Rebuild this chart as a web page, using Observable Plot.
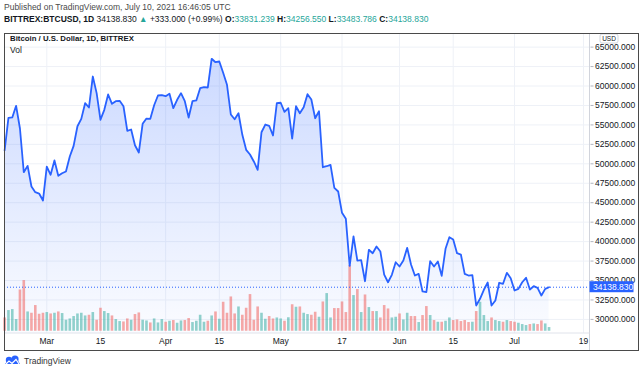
<!DOCTYPE html>
<html><head><meta charset="utf-8">
<script src="https://cdn.jsdelivr.net/npm/d3@7"></script>
<script src="https://cdn.jsdelivr.net/npm/@observablehq/plot@0.6"></script>
<style>
body{margin:0;width:640px;height:372px;position:relative;overflow:hidden;background:#fff;font-family:"Liberation Sans",Arial,sans-serif;}
.abs{position:absolute;white-space:nowrap;line-height:10px;}
#pub{left:4px;top:2px;font-size:8.5px;color:#4a4a4a;}
#sym{left:4px;top:14px;font-size:8.5px;color:#131722;}
#sym .t{color:#26a69a;}
#sym b{font-weight:bold;}
#frame{left:3.5px;top:32.5px;width:635px;height:318px;border:1.5px solid #4a4a4a;box-sizing:border-box;}
#chart{position:absolute;left:0;top:33px;}
#title{left:10px;top:33.5px;font-size:7.8px;font-weight:bold;color:#131722;}
#vol{left:10px;top:44.5px;font-size:8.5px;color:#131722;}
#foot{left:4px;top:355px;font-size:8.5px;color:#333;display:flex;align-items:center;gap:3px;}
</style></head>
<body>
<div id="pub" class="abs">Published on TradingView.com, July 10, 2021 16:46:05 UTC</div>
<div id="sym" class="abs"><b>BITTREX:BTCUSD, 1D</b> 34138.830 <span class="t">▲</span> +333.000 (+0.99%) <b>O:</b><span class="t">33831.239</span> <b>H:</b><span class="t">34256.550</span> <b>L:</b><span class="t">33483.786</span> <b>C:</b><span class="t">34138.830</span></div>
<div id="chart"></div>
<div id="frame" class="abs"></div>
<div id="title" class="abs">Bitcoin / U.S. Dollar, 1D, BITTREX</div>
<div id="vol" class="abs">Vol</div>
<div id="foot" class="abs"><svg width="17" height="11" viewBox="0 0 17 11"><path d="M1 9 L5 4 L8 7 L12 2 L16 9 Z" fill="#2962ff"/><circle cx="5" cy="5" r="3.2" fill="#2962ff"/><circle cx="11" cy="4" r="3.6" fill="#2962ff"/><path d="M2 9 L5 6 L8 8.5 L12 4.5 L15 9" fill="none" stroke="#fff" stroke-width="1.2"/></svg><span>TradingView</span></div>
<script>
// ---- data ----
const startDate = "2021-02-18"; // first daily bar
const closes = [
51710, 55910, 55960, 57455, 54540, 48920, 49740, 47080, 46350, 46180,
45280, 49650, 48590, 50430, 48460, 48790, 49010, 50940, 52310, 54830,
55780, 57790, 57240, 61220, 59080, 55660, 56940, 58910, 57710, 58050,
58100, 57400, 54240, 54410, 52390, 51450, 55140, 55820, 55780, 57530,
58780, 58830, 58690, 59000, 57150, 58230, 59080, 58050, 55950, 58050,
58140, 59720, 59850, 59810, 63500, 63060, 63150, 61700, 60150, 56340,
55730, 56500, 53730, 51800, 51200, 50300, 49230, 54060, 55050, 54890,
53640, 57790, 57850, 56680, 57150, 53250, 57400, 56500, 57280, 58950,
58270, 55860, 56760, 49560, 49690, 49870, 46920, 46440, 43700, 42930,
36870, 40660, 37570, 37620, 34910, 38950, 38510, 39370, 38730, 35770,
34780, 35730, 37350, 36800, 37570, 39200, 37060, 35640, 35860, 33590,
33500, 37480, 36800, 37440, 35600, 39080, 40570, 40270, 38510, 38340,
35860, 35640, 35700, 31790, 32650, 33810, 34740, 31790, 32430, 34710,
34580, 35990, 35300, 33720, 33930, 34780, 35350, 33840, 34270, 34060,
33070, 33930, 34138.83
];
const prevClose = 52100; // close of the day before the first bar
const volumes = [
1330, 2070, 2170, 1170, 4130, 5070, 1930, 1800, 2570, 1700,
1800, 1870, 1730, 1800, 1930, 1770, 1100, 1230, 1470, 1730,
1800, 1530, 1600, 1870, 1100, 2300, 1970, 1770, 1530, 1170,
970, 930, 1230, 1100, 1670, 1830, 1100, 1030, 830, 1230,
830, 1170, 900, 1000, 1070, 800, 1030, 1070, 1270, 870,
1000, 1600, 900, 1000, 1530, 1930, 1200, 2900, 1800, 3430,
1730, 2430, 1600, 2300, 3670, 1100, 2430, 1800, 1200, 1470,
1230, 1330, 1230, 1000, 1350, 2650, 2400, 2430, 1800, 1670,
1600, 1900, 1400, 2930, 3770, 1330, 2270, 2270, 2930, 1870,
6570, 3570, 4170, 1870, 3630, 2370, 1970, 1970, 1330, 2570,
2230, 1330, 1400, 1730, 1130, 1800, 1470, 1470, 870, 1570,
2470, 1570, 1070, 900, 900, 1000, 1330, 1070, 1130, 970,
1070, 870, 900, 1970, 2900, 1570, 970, 1330, 1070, 970,
900, 1070, 970, 900, 800, 670, 570, 670, 730, 670,
1030, 730, 370
];
const priceTicks = [30000, 32500, 35000, 37500, 40000, 42500, 45000, 47500, 50000, 52500, 55000, 57500, 60000, 62500, 65000];
const dateTicks = ["2021-03-01","2021-03-15","2021-04-01","2021-04-15","2021-05-01","2021-05-17","2021-06-01","2021-06-15","2021-07-01","2021-07-19"];
const dateTickLabels = ["Mar","15","Apr","15","May","17","Jun","15","Jul","19"];
const lastClose = 34138.83;

// ---- build ----
const DAY = 864e5;
const t0 = Date.parse(startDate + "T00:00:00Z");
const rows = closes.map((c, i) => ({
  date: new Date(t0 + i * DAY),
  close: c,
  volume: volumes[i],
  up: c >= (i ? closes[i - 1] : prevClose)
}));
const tickDates = dateTicks.map(s => new Date(s + "T00:00:00Z"));
const labelOf = new Map(tickDates.map((d, i) => [+d, dateTickLabels[i]]));

const mar1 = Date.parse("2021-03-01T00:00:00Z");
const xDomain = [new Date(mar1 - 11.03 * DAY), new Date(mar1 + 141.68 * DAY)];
const yDomain = [28190, 66750];
const volBase = 28480, volPaneTop = 36920;
const volK = (volPaneTop - volBase) / d3.max(volumes);

const FONT = "'Liberation Sans', Arial, sans-serif";
const W = 640, H = 317, mR = 50.5, mB = 17, mL = 4;
const chart = Plot.plot({
  width: W, height: H,
  marginLeft: mL, marginRight: mR, marginTop: 0, marginBottom: mB,
  x: {type: "utc", domain: xDomain},
  y: {domain: yDomain},
  style: {fontFamily: FONT, fontSize: "8.5px", color: "#131722", background: "transparent", overflow: "visible"},
  marks: [
    Plot.gridY(priceTicks, {stroke: "#eef1f7", strokeOpacity: 1}),
    Plot.gridX(tickDates, {stroke: "#eef1f7", strokeOpacity: 1}),
    Plot.areaY(rows, {x: "date", y1: yDomain[0], y2: "close", fill: "url(#areaGrad)"}),
    Plot.ruleX(rows, {x: "date", y1: volBase, y2: d => volBase + d.volume * volK,
      stroke: d => d.up ? "#26a69a" : "#ef5350", strokeOpacity: 0.5, strokeWidth: 2.6}),
    Plot.ruleY([lastClose], {stroke: "#2962ff", strokeWidth: 1, strokeDasharray: "1,2"}),
    Plot.line(rows, {x: "date", y: "close", stroke: "#2962ff", strokeWidth: 1.8}),
    Plot.axisY(priceTicks, {anchor: "right", tickSize: 3, tickPadding: 2, stroke: "#b2b5be", label: null,
      tickFormat: d => d.toFixed(3)}),
    Plot.axisX(tickDates, {anchor: "bottom", tickSize: 0, tickPadding: 4, label: null,
      tickFormat: d => labelOf.get(+d)})
  ]
});

const svg = d3.select(chart);
const defs = svg.insert("defs", ":first-child");
const g = defs.append("linearGradient").attr("id", "areaGrad").attr("x1", 0).attr("y1", 0).attr("x2", 0).attr("y2", 1);
g.append("stop").attr("offset", "0%").attr("stop-color", "#2962ff").attr("stop-opacity", 0.24);
g.append("stop").attr("offset", "100%").attr("stop-color", "#2962ff").attr("stop-opacity", 0.02);

// pane separators
const xr = W - mR, yb = H - mB;
svg.append("line").attr("x1", xr).attr("x2", xr).attr("y1", 0).attr("y2", H).attr("stroke", "#d1d4dc");
svg.append("line").attr("x1", mL).attr("x2", xr).attr("y1", yb).attr("y2", yb).attr("stroke", "#e0e3eb");

// last price tag
const ly = chart.scale("y").apply(lastClose);
svg.append("rect").attr("x", xr).attr("y", ly - 5.5).attr("width", 44).attr("height", 11).attr("fill", "#2962ff");
svg.append("text").attr("x", xr + 3.5).attr("y", ly).attr("dy", "0.34em").attr("fill", "#fff")
  .attr("text-anchor", "start").attr("font-size", "8.5px").attr("font-family", FONT).text(lastClose.toFixed(3));

// currency badge
svg.append("rect").attr("x", 600).attr("y", 1).attr("width", 18).attr("height", 9).attr("rx", 2)
  .attr("fill", "#fff").attr("stroke", "#c8cbd3").attr("stroke-width", 0.8);
svg.append("text").attr("x", 609).attr("y", 5.7).attr("text-anchor", "middle").attr("dy", "0.3em")
  .attr("font-size", "6.5px").attr("fill", "#131722").attr("font-family", FONT).text("USD");

document.getElementById("chart").appendChild(chart);
</script>
</body></html>
